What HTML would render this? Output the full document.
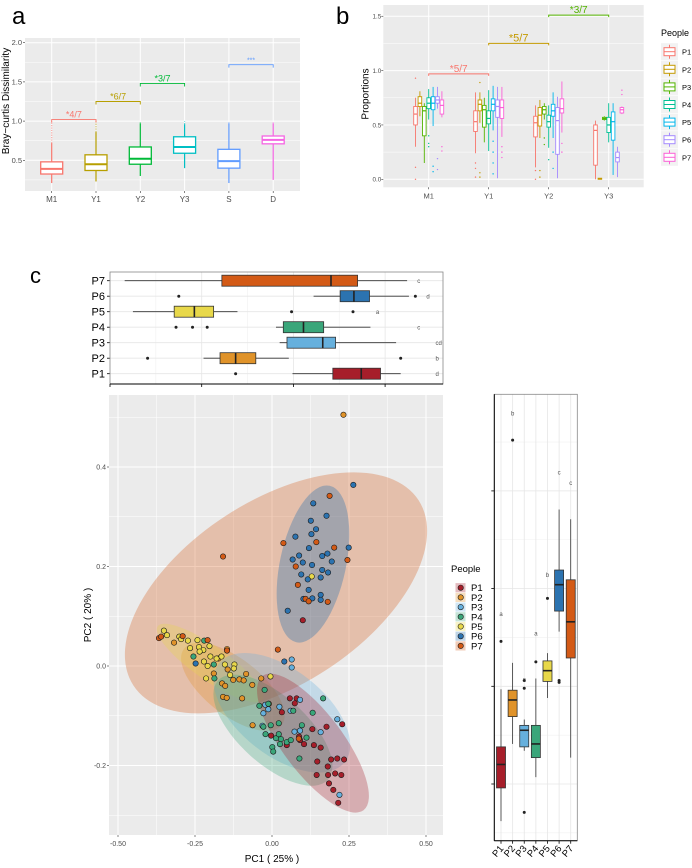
<!DOCTYPE html>
<html><head><meta charset="utf-8">
<style>
html,body{margin:0;padding:0;background:#fff;}
svg{display:block;font-family:"Liberation Sans",sans-serif;}
</style></head>
<body>
<svg id="fig" width="692" height="868" viewBox="0 0 692 868" xmlns="http://www.w3.org/2000/svg"></svg>
<script>
// ---------- Panel a data ----------
const aCats = ["M1","Y1","Y2","Y3","S","D"];
const aLo  = [0.21,0.23,0.30,0.40,0.21,0.25];
const aQ1  = [0.325,0.37,0.45,0.59,0.40,0.71];
const aMed = [0.39,0.45,0.52,0.67,0.49,0.76];
const aQ3  = [0.48,0.57,0.67,0.80,0.64,0.81];
const aHi  = [0.72,0.86,0.97,0.96,0.97,0.97];
const aColors = ["#F8766D","#B79F00","#00BA38","#00BFC4","#619CFF","#F564E3"];
const aTicks = [0.5,1.0,1.5,2.0];
const aBrFrom = [0,1,2,4];
const aBrTo = [1,2,3,5];
const aBrY = [1.02,1.25,1.48,1.72];
const aBrLab = ["*4/7","*6/7","*3/7","***"];
const aBrCol = ["#F8766D","#B79F00","#00BA38","#619CFF"];

// ---------- Panel b data ----------
const bCats = ["M1","Y1","Y2","Y3"];
const people = ["P1","P2","P3","P4","P5","P6","P7"];
const bColors = ["#F8766D","#C49A00","#53B400","#00C094","#00B6EB","#A58AFF","#FB61D7"];
const bLo  = [[0.30,0.58,0.15,0.55,0.49,0.65,0.57],[0.24,0.52,0.34,0.26,0.45,0.01,0.39],[0.11,0.38,0.55,0.29,0.38,0.01,0.43],[0.0,0.0,0.54,0.34,0.04,0.02,0.60]];
const bQ1  = [[0.50,0.67,0.40,0.65,0.64,0.70,0.60],[0.44,0.63,0.48,0.51,0.63,0.57,0.56],[0.39,0.49,0.60,0.48,0.58,0.23,0.61],[0.13,0.0,0.55,0.43,0.36,0.16,0.61]];
const bMed = [[0.60,0.70,0.63,0.70,0.70,0.73,0.68],[0.53,0.69,0.64,0.56,0.69,0.67,0.66],[0.52,0.59,0.64,0.53,0.63,0.54,0.65],[0.45,0.005,0.56,0.50,0.53,0.20,0.64]];
const bQ3  = [[0.67,0.76,0.67,0.75,0.76,0.76,0.73],[0.63,0.73,0.68,0.63,0.74,0.73,0.73],[0.58,0.66,0.67,0.59,0.69,0.66,0.74],[0.50,0.01,0.57,0.57,0.62,0.25,0.66]];
const bHi  = [[0.75,0.81,0.70,0.83,0.85,0.85,0.81],[0.80,0.80,0.75,0.82,0.86,0.85,0.85],[0.68,0.73,0.70,0.68,0.80,0.76,0.90],[0.54,0.01,0.58,0.70,0.70,0.30,0.67]];
const bOutGroup = [0,0,0,0,0,0,0,0,0,0,0,0,1,1,1,1,1,1,1,1,1,1,1,1,1,2,2,2,2,2,2,2,2,2,2,2,3,3];
const bOutPerson = [0,0,0,3,3,3,4,4,5,5,6,6,0,0,0,1,1,1,4,4,4,4,6,6,6,0,0,1,1,2,2,3,4,4,6,6,6,6];
const bOutVal = [0.93,0.11,0.0,0.40,0.33,0.30,0.12,0.07,0.19,0.09,0.30,0.26,0.15,0.10,0.02,0.89,0.06,0.02,0.35,0.25,0.15,0.05,0.30,0.25,0.20,0.08,0.0,0.08,0.02,0.38,0.32,0.18,0.25,0.10,0.33,0.25,0.82,0.78];
const bTicks = [0.0,0.5,1.0,1.5];
const bBrFrom = [0,1,2];
const bBrTo = [1,2,3];
const bBrY = [0.97,1.25,1.51];
const bBrLab = ["*5/7","*5/7","*3/7"];
const bBrCol = ["#F8766D","#C49A00","#53B400"];

// ---------- Panel c data ----------
const cColors = ["#A61E2A","#E0932A","#66B0DD","#3AA67A","#E8D84A","#2C73B0","#D35A16"];
const ptsP1 = [[0.100,0.092],[0.058,-0.065],[0.080,-0.065],[0.074,-0.075],[0.032,-0.093],[-0.003,-0.140],[0.048,-0.159],[0.088,-0.142],[0.091,-0.149],[0.104,-0.157],[0.131,-0.127],[0.136,-0.159],[0.158,-0.164],[0.177,-0.122],[0.228,-0.117],[0.192,-0.188],[0.212,-0.186],[0.234,-0.188],[0.147,-0.192],[0.181,-0.202],[0.145,-0.219],[0.182,-0.219],[0.205,-0.216],[0.225,-0.219],[0.185,-0.236],[0.199,-0.249],[0.215,-0.275]];
const ptsP2 = [[0.232,0.505],[-0.318,0.047],[-0.146,0.034],[-0.174,0.015],[-0.144,-0.007],[-0.189,-0.015],[-0.162,-0.035],[-0.152,-0.040],[-0.106,-0.027],[-0.092,-0.029],[-0.084,-0.016],[-0.064,-0.038],[-0.035,-0.025],[-0.159,-0.062],[-0.147,-0.064],[-0.097,-0.065],[-0.063,-0.119],[-0.010,-0.076],[-0.126,-0.028]];
const ptsP3 = [[0.064,0.013],[0.064,-0.003],[-0.028,-0.095],[-0.022,-0.078],[-0.012,-0.087],[0.024,-0.082],[0.060,-0.090],[0.091,-0.068],[-0.031,-0.120],[0.073,-0.132],[0.091,-0.130],[0.158,-0.133],[0.212,-0.107],[0.219,-0.259]];
const ptsP4 = [[-0.255,0.019],[-0.220,0.051],[-0.189,0.003],[-0.187,-0.025],[-0.024,-0.048],[-0.041,-0.080],[-0.012,-0.076],[0.166,-0.065],[0.132,-0.094],[0.069,-0.090],[0.022,-0.115],[-0.004,-0.119],[-0.028,-0.122],[-0.021,-0.137],[0.013,-0.145],[0.029,-0.147],[0.022,-0.137],[0.026,-0.157],[0.048,-0.153],[0.061,-0.149],[0.001,-0.163],[0.004,-0.172],[0.097,-0.119],[0.112,-0.144],[0.089,-0.186]];
const ptsP5 = [[-0.351,0.071],[-0.341,0.062],[-0.301,0.059],[-0.273,0.051],[-0.242,0.052],[-0.266,0.036],[-0.237,0.038],[-0.203,0.040],[-0.223,0.032],[-0.200,0.019],[-0.221,0.009],[-0.209,0.000],[-0.180,0.015],[-0.164,0.019],[-0.153,0.003],[-0.122,0.003],[-0.124,-0.005],[-0.136,-0.018],[-0.214,-0.025],[-0.005,-0.021],[0.129,0.180],[-0.295,0.054],[-0.235,0.029]];
const ptsP6 = [[0.264,0.364],[0.134,0.327],[0.177,0.302],[0.126,0.292],[0.143,0.275],[0.128,0.265],[0.076,0.260],[0.120,0.237],[0.249,0.238],[0.180,0.226],[0.163,0.221],[0.088,0.222],[0.067,0.214],[0.100,0.208],[0.194,0.210],[0.130,0.203],[0.163,0.193],[0.182,0.188],[0.095,0.184],[0.158,0.178],[0.116,0.174],[0.119,0.153],[0.158,0.143],[0.131,0.136],[0.158,0.133],[0.102,0.135],[0.051,0.111],[0.040,0.009],[-0.248,0.005]];
const ptsP7 = [[0.187,0.342],[0.037,0.247],[0.144,0.249],[0.202,0.238],[0.245,0.213],[0.077,0.200],[0.084,0.163],[0.109,0.135],[0.119,0.130],[0.181,0.129],[-0.159,0.220],[0.019,0.033],[-0.367,0.056],[-0.360,0.059],[-0.290,0.060],[-0.209,0.052],[-0.146,0.031],[0.087,-0.146]];
const ellCx = [0.133,-0.127,0.032,0.003,-0.201,0.133,0.013];
const ellCy = [-0.155,-0.042,-0.094,-0.129,0.006,0.205,0.147];
const pcXTicks = [-0.50,-0.25,0.00,0.25,0.50];
const pcXLabels = ["-0.50","-0.25","0.00","0.25","0.50"];
const pcYTicks = [-0.2,0.0,0.2,0.4];
const pcYLabels = ["-0.2","0.0","0.2","0.4"];

const hLo  = [1.99,1.02,1.85,1.81,0.25,2.22,0.16];
const hQ1  = [2.43,1.20,1.93,1.89,0.70,2.51,1.22];
const hMed = [2.74,1.37,2.32,2.11,0.92,2.66,2.41];
const hQ3  = [2.95,1.59,2.46,2.33,1.13,2.83,2.70];
const hHi  = [3.17,1.95,3.12,2.84,1.39,3.26,3.24];
const hLetters = ["d","b","cd","c","a","d","c"];
const hOutPerson = [0,1,1,3,3,3,4,4,5,5];
const hOutVal = [1.37,0.41,3.17,0.72,0.90,1.06,1.98,2.65,0.75,3.33];
const hLetterPos = [3.55,3.55,3.55,3.35,2.90,3.45,3.35];

const vLo  = [-0.38,0.41,0.34,0.07,0.88,1.56,0.27];
const vQ1  = [-0.04,0.69,0.38,0.27,1.05,1.77,1.29];
const vMed = [0.20,0.86,0.55,0.41,1.16,2.04,1.66];
const vQ3  = [0.38,0.96,0.60,0.60,1.26,2.19,2.09];
const vHi  = [0.97,1.24,0.66,1.08,1.34,2.81,2.71];
const vLetters = ["a","b","a","a","b","c","c"];
const vLetterPos = [1.72,3.77,1.05,1.52,2.12,3.17,3.06];
const vOutPerson = [0,1,2,2,2,3,4,5,5];
const vOutVal = [1.46,3.52,-0.29,0.98,1.06,1.25,1.90,1.04,1.06];

// ---------- helpers ----------
const NS = "http://www.w3.org/2000/svg";
const svg = document.getElementById("fig");
function el(tag, attrs, parent, text){
  const e = document.createElementNS(NS, tag);
  for (const k in attrs) e.setAttribute(k, attrs[k]);
  if (text !== undefined) e.textContent = text;
  (parent || svg).appendChild(e);
  return e;
}
function grp(name){
  const g = el("g", {});
  
  
  return g;
}

// ---------- Panel a ----------
(function(){
  const g = grp("panel-a");
  const L=25,R=300,T=38,B=191;
  const ay = v => 160.3 - (v-0.5)*78.4;
  const ax = i => 51.7 + i*44.3;
  const lab = el("text",{x:12,y:24,"font-size":24,fill:"#000"},g,"a");
   
  const bg = el("rect",{x:L,y:T,width:R-L,height:B-T,fill:"#EBEBEB"},g);
   
  [0.25,0.75,1.25,1.75].forEach(v=>el("line",{x1:L,x2:R,y1:ay(v),y2:ay(v),stroke:"#fff","stroke-width":0.5},g));
  aTicks.forEach(v=>{
    el("line",{x1:L,x2:R,y1:ay(v),y2:ay(v),stroke:"#fff","stroke-width":1},g);
    el("line",{x1:L-2,x2:L,y1:ay(v),y2:ay(v),stroke:"#333","stroke-width":0.6},g);
    const t = el("text",{x:L-3,y:ay(v)+2.5,"font-size":7.5,fill:"#4D4D4D","text-anchor":"end"},g,v.toFixed(1));
     
  });
  aCats.forEach((c,i)=>{
    const x=ax(i);
    el("line",{x1:x,x2:x,y1:T,y2:B,stroke:"#fff","stroke-width":1},g);
    el("line",{x1:x,x2:x,y1:B,y2:B+2,stroke:"#333","stroke-width":0.6},g);
    const t = el("text",{x:x,y:B+11,"font-size":8,fill:"#4D4D4D","text-anchor":"middle"},g,c);
     
    const col=aColors[i], w=22;
    const bx = el("g",{},g);
     
    el("line",{x1:x,x2:x,y1:ay(aLo[i]),y2:ay(aQ1[i]),stroke:col,"stroke-width":1.2},bx);
    el("line",{x1:x,x2:x,y1:ay(aQ3[i]),y2:ay(aHi[i]),stroke:col,"stroke-width":1.2},bx);
    el("line",{x1:x,x2:x,y1:ay(aHi[i]),y2:ay(1.0),stroke:col,"stroke-width":1.2,"stroke-dasharray":"1.2 1.2",opacity:0.6},bx);
    el("rect",{x:x-w/2,y:ay(aQ3[i]),width:w,height:ay(aQ1[i])-ay(aQ3[i]),fill:"#fff",stroke:col,"stroke-width":1.3},bx);
    el("line",{x1:x-w/2,x2:x+w/2,y1:ay(aMed[i]),y2:ay(aMed[i]),stroke:col,"stroke-width":2},bx);
  });
  aBrFrom.forEach((f,k)=>{
    const x1=ax(f),x2=ax(aBrTo[k]),y=ay(aBrY[k]);
    const b = el("g",{},g);
     
    el("path",{d:`M${x1},${y+3}V${y}H${x2}V${y+3}`,fill:"none",stroke:aBrCol[k],"stroke-width":0.9},b);
    el("text",{x:(x1+x2)/2,y:y-2,"font-size":aBrLab[k]==="***"?7:9,fill:aBrCol[k],"text-anchor":"middle"},b,aBrLab[k]);
  });
  const yt = el("text",{x:0,y:0,"font-size":10,fill:"#000","text-anchor":"middle",transform:"translate(9,101) rotate(-90)"},g,"Bray\u2212curtis Dissimilarity");
   
})();

// ---------- Panel b ----------
(function(){
  const g = grp("panel-b");
  const L=383.3,R=643.7,T=5,B=187.3;
  const by = v => 179.3 - v*108.7;
  const bx = i => 428.7 + i*60;
  const lab = el("text",{x:336,y:24,"font-size":24,fill:"#000"},g,"b");
   
  const bg = el("rect",{x:L,y:T,width:R-L,height:B-T,fill:"#EBEBEB"},g);
   
  [0.25,0.75,1.25].forEach(v=>el("line",{x1:L,x2:R,y1:by(v),y2:by(v),stroke:"#fff","stroke-width":0.5},g));
  bTicks.forEach(v=>{
    el("line",{x1:L,x2:R,y1:by(v),y2:by(v),stroke:"#fff","stroke-width":1},g);
    el("line",{x1:L-2,x2:L,y1:by(v),y2:by(v),stroke:"#333","stroke-width":0.6},g);
    const t = el("text",{x:L-2,y:by(v)+2.3,"font-size":6.3,fill:"#4D4D4D","text-anchor":"end"},g,v.toFixed(1));
     
  });
  bCats.forEach((c,gi)=>{
    const cx=bx(gi);
    el("line",{x1:cx,x2:cx,y1:T,y2:B,stroke:"#fff","stroke-width":1},g);
    el("line",{x1:cx,x2:cx,y1:B,y2:B+2,stroke:"#333","stroke-width":0.6},g);
    const t = el("text",{x:cx,y:B+11,"font-size":7.5,fill:"#4D4D4D","text-anchor":"middle"},g,c);
     
    people.forEach((p,pi)=>{
      const x = cx + (pi-3)*4.4, w=3.6, col=bColors[pi];
      const b = el("g",{},g);
       
      el("line",{x1:x,x2:x,y1:by(bLo[gi][pi]),y2:by(bHi[gi][pi]),stroke:col,"stroke-width":0.9},b);
      el("rect",{x:x-w/2,y:by(bQ3[gi][pi]),width:w,height:Math.max(0.8,by(bQ1[gi][pi])-by(bQ3[gi][pi])),fill:"#fff",stroke:col,"stroke-width":0.9},b);
      el("line",{x1:x-w/2,x2:x+w/2,y1:by(bMed[gi][pi]),y2:by(bMed[gi][pi]),stroke:col,"stroke-width":1.2},b);
    });
  });
  bOutVal.forEach((v,k)=>{
    const x = bx(bOutGroup[k]) + (bOutPerson[k]-3)*4.4;
    const o = el("circle",{cx:x,cy:by(v),r:0.7,fill:bColors[bOutPerson[k]]},g);
     
  });
  bBrFrom.forEach((f,k)=>{
    const x1=bx(f),x2=bx(bBrTo[k]),y=by(bBrY[k]);
    const b = el("g",{},g);
     
    el("path",{d:`M${x1},${y+2}V${y}H${x2}V${y+2}`,fill:"none",stroke:bBrCol[k],"stroke-width":1},b);
    el("text",{x:(x1+x2)/2,y:y-2,"font-size":k===1?11:10,fill:bBrCol[k],"text-anchor":"middle"},b,bBrLab[k]);
  });
  const yt = el("text",{x:0,y:0,"font-size":10,fill:"#000","text-anchor":"middle",transform:"translate(368.5,94) rotate(-90)"},g,"Proportions");
   
  const lg = el("g",{},g);
   
  el("text",{x:661,y:36,"font-size":9,fill:"#000"},lg,"People");
  people.forEach((p,i)=>{
    const y = 51.7 + i*17.6;
    const e = el("g",{},lg);
     
    el("rect",{x:661,y:y-8.5,width:17,height:17,fill:"#F2F2F2"},e);
    el("line",{x1:669.5,x2:669.5,y1:y-7,y2:y+7,stroke:bColors[i],"stroke-width":1},e);
    el("rect",{x:664,y:y-4,width:11,height:8,fill:"#fff",stroke:bColors[i],"stroke-width":1},e);
    el("line",{x1:664,x2:675,y1:y,y2:y,stroke:bColors[i],"stroke-width":1},e);
    el("text",{x:682,y:y+3,"font-size":7.5,fill:"#000"},e,p);
  });
})();

// ---------- Panel c ----------
(function(){
  const g = grp("panel-c");
  const lab = el("text",{x:30,y:283,"font-size":22,fill:"#000"},g,"c");
   

  const tg = el("g",{},g);
   
  const hx = v => 110 + v*91.7;
  const hy = i => 373.7 - i*15.5;
  el("rect",{x:110,y:272,width:333,height:112,fill:"#fff"},tg);
  [0.5,1.5,2.5].forEach(v=>el("line",{x1:hx(v),x2:hx(v),y1:272,y2:384,stroke:"#F0F0F0","stroke-width":0.6},tg));
  [1,2,3].forEach(v=>el("line",{x1:hx(v),x2:hx(v),y1:272,y2:384,stroke:"#E6E6E6","stroke-width":0.8},tg));
  people.forEach((p,i)=>{
    const y=hy(i), h=11, col=cColors[i];
    el("line",{x1:110,x2:443,y1:y,y2:y,stroke:"#E6E6E6","stroke-width":0.8},tg);
    const t = el("text",{x:105,y:y+4,"font-size":11,fill:"#000","text-anchor":"end"},tg,p);
     
    el("line",{x1:107,x2:110,y1:y,y2:y,stroke:"#000","stroke-width":0.8},tg);
    const b = el("g",{},tg);
     
    el("line",{x1:hx(hLo[i]),x2:hx(hHi[i]),y1:y,y2:y,stroke:"#333","stroke-width":0.8},b);
    el("rect",{x:hx(hQ1[i]),y:y-h/2,width:hx(hQ3[i])-hx(hQ1[i]),height:h,fill:col,stroke:"#333","stroke-width":0.8},b);
    el("line",{x1:hx(hMed[i]),x2:hx(hMed[i]),y1:y-h/2,y2:y+h/2,stroke:"#222","stroke-width":1.6},b);
    el("text",{x:hx(hLetterPos[i]),y:y+2.5,"font-size":6,fill:"#555"},b,hLetters[i]);
  });
  hOutVal.forEach((v,k)=>{
    const o = el("circle",{cx:hx(v),cy:hy(hOutPerson[k]),r:1.5,fill:"#222"},tg);
     
  });
  el("rect",{x:110,y:272,width:333,height:112,fill:"none",stroke:"#888","stroke-width":0.8},tg);
  el("line",{x1:110,x2:443,y1:384,y2:384,stroke:"#000","stroke-width":1},tg);
  [0,1,2,3].forEach(v=>el("line",{x1:hx(v),x2:hx(v),y1:384,y2:387,stroke:"#000","stroke-width":0.8},tg));

  const sg = el("g",{},g);
   
  const sx = v => 272 + v*308;
  const sy = v => 666 - v*497.5;
  const PL=109,PR=443,PT=395,PB=835;
  const sbg = el("rect",{x:PL,y:PT,width:PR-PL,height:PB-PT,fill:"#EBEBEB"},sg);
   
  [-0.375,-0.125,0.125,0.375].forEach(v=>el("line",{x1:sx(v),x2:sx(v),y1:PT,y2:PB,stroke:"#fff","stroke-width":0.5},sg));
  [-0.3,-0.1,0.1,0.3,0.5].forEach(v=>el("line",{x1:PL,x2:PR,y1:sy(v),y2:sy(v),stroke:"#fff","stroke-width":0.5},sg));
  pcXTicks.forEach((v,i)=>{
    el("line",{x1:sx(v),x2:sx(v),y1:PT,y2:PB,stroke:"#fff","stroke-width":1},sg);
    el("line",{x1:sx(v),x2:sx(v),y1:PB,y2:PB+2,stroke:"#333","stroke-width":0.6},sg);
    const t = el("text",{x:sx(v),y:PB+11,"font-size":7,fill:"#4D4D4D","text-anchor":"middle"},sg,pcXLabels[i]);
     
  });
  pcYTicks.forEach((v,i)=>{
    el("line",{x1:PL,x2:PR,y1:sy(v),y2:sy(v),stroke:"#fff","stroke-width":1},sg);
    el("line",{x1:PL-2,x2:PL,y1:sy(v),y2:sy(v),stroke:"#333","stroke-width":0.6},sg);
    const t = el("text",{x:PL-3,y:sy(v)+2.5,"font-size":7,fill:"#4D4D4D","text-anchor":"end"},sg,pcYLabels[i]);
     
  });
  const ellShape = [[84,30,53],[62,28,38],[80,43,38],[74,34,42],[64,17,35],[80,33,-78],[170,92,-33]];
  const ellOrder = [6,1,4,2,3,0,5];
  ellOrder.forEach(i=>{
    const cx=sx(ellCx[i]), cy=sy(ellCy[i]);
    const e = el("ellipse",{cx:cx,cy:cy,rx:ellShape[i][0],ry:ellShape[i][1],transform:`rotate(${ellShape[i][2]} ${cx} ${cy})`,fill:cColors[i],"fill-opacity":i===5?0.35:0.3},sg);
     
  });
  const allPts = [ptsP1,ptsP2,ptsP3,ptsP4,ptsP5,ptsP6,ptsP7];
  allPts.forEach((arr,i)=>{
    arr.forEach(pt=>{
      const c = el("circle",{cx:sx(pt[0]),cy:sy(pt[1]),r:2.7,fill:cColors[i],stroke:"#1a1a1a","stroke-width":0.6},sg);
      
      
    });
  });
  const xt = el("text",{x:272,y:862,"font-size":10,fill:"#000","text-anchor":"middle"},sg,"PC1 ( 25% )");
   
  const yt = el("text",{x:0,y:0,"font-size":10,fill:"#000","text-anchor":"middle",transform:"translate(91,615) rotate(-90)"},sg,"PC2 ( 20% )");
   

  const lg = el("g",{},g);
   
  el("text",{x:451,y:572,"font-size":9.5,fill:"#000"},lg,"People");
  people.forEach((p,i)=>{
    const y = 587.7 + i*9.7;
    const e = el("g",{},lg);
     
    el("rect",{x:455.5,y:y-4.6,width:10,height:9.2,fill:cColors[i],"fill-opacity":0.3},e);
    el("circle",{cx:460.7,cy:y,r:2.7,fill:cColors[i],stroke:"#1a1a1a","stroke-width":0.6},e);
    el("text",{x:471,y:y+3.5,"font-size":9.5,fill:"#000"},e,p);
  });

  const rg = el("g",{},g);
   
  const RL=494.3,RR=577.3,RT=394.3,RB=840.7;
  const vy = v => 784 - v*97.7;
  const vx = i => 501 + i*11.62;
  el("rect",{x:RL,y:RT,width:RR-RL,height:RB-RT,fill:"#fff"},rg);
  [-0.5,0.5,1.5,2.5,3.5].forEach(v=>el("line",{x1:RL,x2:RR,y1:vy(v),y2:vy(v),stroke:"#F0F0F0","stroke-width":0.6},rg));
  [0,1,2,3].forEach(v=>{
    el("line",{x1:RL,x2:RR,y1:vy(v),y2:vy(v),stroke:"#E6E6E6","stroke-width":0.8},rg);
    el("line",{x1:RL-3,x2:RL,y1:vy(v),y2:vy(v),stroke:"#000","stroke-width":0.8},rg);
  });
  people.forEach((p,i)=>{
    const x=vx(i), w=9, col=cColors[i];
    el("line",{x1:x,x2:x,y1:RT,y2:RB,stroke:"#E6E6E6","stroke-width":0.8},rg);
    const b = el("g",{},rg);
     
    el("line",{x1:x,x2:x,y1:vy(vLo[i]),y2:vy(vHi[i]),stroke:"#333","stroke-width":0.8},b);
    el("rect",{x:x-w/2,y:vy(vQ3[i]),width:w,height:vy(vQ1[i])-vy(vQ3[i]),fill:col,stroke:"#333","stroke-width":0.8},b);
    el("line",{x1:x-w/2,x2:x+w/2,y1:vy(vMed[i]),y2:vy(vMed[i]),stroke:"#222","stroke-width":1.6},b);
    el("text",{x:x,y:vy(vLetterPos[i]),"font-size":6,fill:"#555","text-anchor":"middle"},b,vLetters[i]);
    el("line",{x1:x,x2:x,y1:RB,y2:RB+3,stroke:"#000","stroke-width":0.8},rg);
    const t = el("text",{x:0,y:0,"font-size":9.5,fill:"#000","text-anchor":"end",transform:`translate(${x+3},${RB+8}) rotate(-50)`},rg,p);
     
  });
  vOutVal.forEach((v,k)=>{
    const o = el("circle",{cx:vx(vOutPerson[k]),cy:vy(v),r:1.5,fill:"#222"},rg);
     
  });
  el("rect",{x:RL,y:RT,width:RR-RL,height:RB-RT,fill:"none",stroke:"#888","stroke-width":0.8},rg);
  el("line",{x1:RL,x2:RL,y1:RT,y2:RB,stroke:"#000","stroke-width":1},rg);
  el("line",{x1:RL,x2:RR,y1:RB,y2:RB,stroke:"#000","stroke-width":1},rg);
})();
</script>
</body></html>
